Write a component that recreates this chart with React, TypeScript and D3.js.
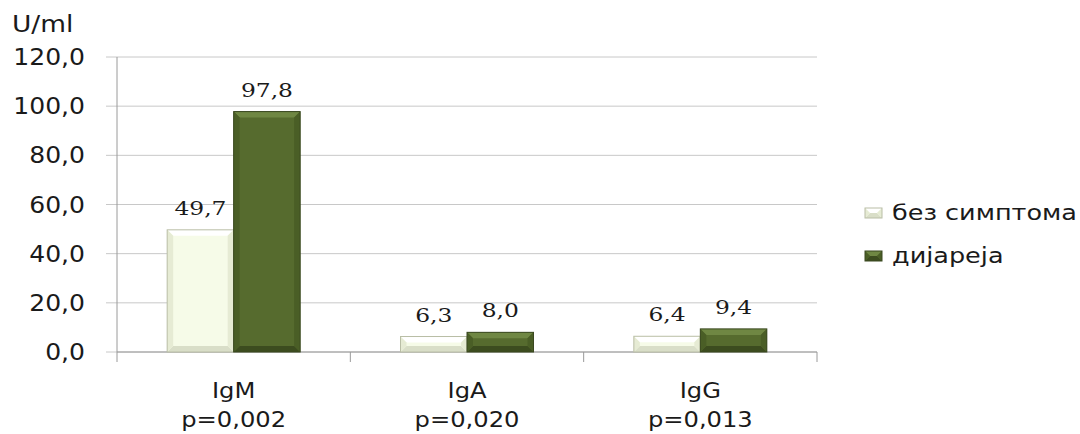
import React from "react";
import * as d3 from "d3";

const categories = ["IgM", "IgA", "IgG"];
const pValues = ["p=0,002", "p=0,020", "p=0,013"];
const seriesNames = ["без симптома", "дијареја"];
const seriesNoSymptoms = [49.7, 6.3, 6.4];
const seriesDiarrhea = [97.8, 8.0, 9.4];
const yTicks = [0, 20, 40, 60, 80, 100, 120];

const W = 1080;
const H = 434;
const M = { left: 117, right: 263, top: 57, bottom: 82 };

const fills = [
  { base: "#f6fbe8", top: "#ffffff", bottom: "#d9dec8", side: "#e6ebd4", stroke: "#b9bea6" },
  { base: "#566b2e", top: "#6f8743", bottom: "#3c4c1f", side: "#4a5e26", stroke: "#3a4820" },
];

const fmt = (v: number) => v.toFixed(1).replace(".", ",");

function BevelBar({ x, y, w, h, c }: { x: number; y: number; w: number; h: number; c: typeof fills[0] }) {
  const b = Math.min(6, h / 2, w / 2);
  return (
    <g>
      <rect x={x} y={y} width={w} height={h} fill={c.base} />
      <polygon points={`${x},${y} ${x + w},${y} ${x + w - b},${y + b} ${x + b},${y + b}`} fill={c.top} />
      <polygon points={`${x},${y + h} ${x + w},${y + h} ${x + w - b},${y + h - b} ${x + b},${y + h - b}`} fill={c.bottom} />
      <polygon points={`${x},${y} ${x + b},${y + b} ${x + b},${y + h - b} ${x},${y + h}`} fill={c.side} />
      <polygon points={`${x + w},${y} ${x + w - b},${y + b} ${x + w - b},${y + h - b} ${x + w},${y + h}`} fill={c.side} />
      <rect x={x} y={y} width={w} height={h} fill="none" stroke={c.stroke} strokeWidth={1} />
    </g>
  );
}

function T({ x, y, sx, anchor, family, size, children }: any) {
  return (
    <text
      transform={`translate(${x},${y}) scale(${sx},1)`}
      textAnchor={anchor || "start"}
      fontFamily={family}
      fontSize={size}
      fill="#1a1a1a"
    >
      {children}
    </text>
  );
}

export default function App() {
  const x0 = d3.scaleBand<string>().domain(categories).range([M.left, W - M.right]).paddingInner(0.43).paddingOuter(0.215);
  const x1 = d3.scaleBand<string>().domain(["0", "1"]).range([0, x0.bandwidth()]);
  const y = d3.scaleLinear().domain([0, 120]).range([H - M.bottom, M.top]);
  const step = (W - M.right - M.left) / categories.length;
  const series = [seriesNoSymptoms, seriesDiarrhea];
  const sans = "'DejaVu Sans', sans-serif";
  const serif = "'DejaVu Serif', serif";

  return (
    <svg width={W} height={H} style={{ position: "absolute", left: 0, top: 0, background: "#fff" }}>
      {yTicks.map((t) => (
        <g key={t}>
          <line x1={M.left - 11} x2={W - M.right} y1={y(t)} y2={y(t)} stroke="#c8c8c8" strokeWidth={1} />
          <T x={85} y={y(t) + 8} sx={1.09} anchor="end" family={sans} size={23}>{fmt(t)}</T>
        </g>
      ))}
      <line x1={M.left} x2={M.left} y1={M.top} y2={y(0)} stroke="#9a9a9a" />
      <line x1={M.left} x2={W - M.right} y1={y(0)} y2={y(0)} stroke="#9a9a9a" />
      {d3.range(categories.length + 1).map((i) => (
        <line key={i} x1={M.left + i * step} x2={M.left + i * step} y1={y(0)} y2={y(0) + 10} stroke="#9a9a9a" />
      ))}
      <T x={12} y={32} sx={1.15} family={sans} size={23}>U/ml</T>
      {categories.map((c, i) => (
        <g key={c}>
          {series.map((s, j) => {
            const bx = (x0(c) as number) + (x1(String(j)) as number);
            const bw = x1.bandwidth();
            return (
              <g key={j}>
                <BevelBar x={bx} y={y(s[i])} w={bw} h={y(0) - y(s[i])} c={fills[j]} />
                <T x={bx + bw / 2} y={y(s[i]) - 15} sx={1.3} anchor="middle" family={serif} size={18}>{fmt(s[i])}</T>
              </g>
            );
          })}
          <T x={(x0(c) as number) + x0.bandwidth() / 2} y={398} sx={1.1} anchor="middle" family={sans} size={22}>{c}</T>
          <T x={(x0(c) as number) + x0.bandwidth() / 2} y={427} sx={1.1} anchor="middle" family={sans} size={22}>{pValues[i]}</T>
        </g>
      ))}
      {seriesNames.map((n, j) => (
        <g key={n}>
          <BevelBar x={865} y={208 + j * 43} w={17} h={10} c={fills[j]} />
          <T x={892} y={220 + j * 43} sx={1.16} family={sans} size={22}>{n}</T>
        </g>
      ))}
    </svg>
  );
}
